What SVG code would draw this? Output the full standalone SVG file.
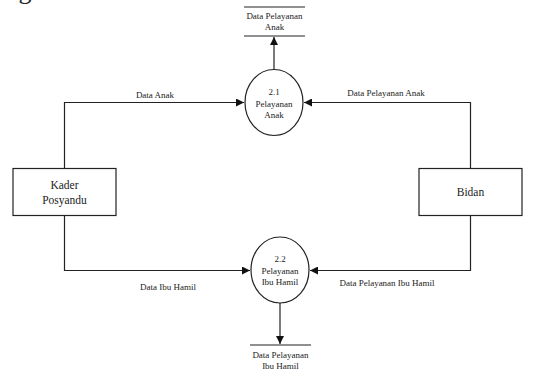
<svg xmlns="http://www.w3.org/2000/svg" width="555" height="370" viewBox="0 0 555 370">
<defs>
<style>
text{font-family:"Times New Roman","Liberation Serif",Tinos,serif;fill:#222;text-anchor:middle}
.lbl{font-size:9px}
.ent{font-size:11.5px}
.sh{fill:#fff;stroke:#222;stroke-width:1.2}
.ln{fill:none;stroke:#222;stroke-width:1.2}
.c{fill:none;stroke:#222;stroke-width:1.2}
</style>
<marker id="ah" viewBox="0 0 10 10" refX="10" refY="5" markerWidth="8" markerHeight="8" markerUnits="userSpaceOnUse" orient="auto">
<path d="M0,0 L10,5 L0,10 z" fill="#111"/>
</marker>
</defs>
<rect width="555" height="370" fill="#fff"/>
<text x="25" y="-1" style="font-size:26px">g</text>

<g id="connectors">
<polyline class="c" points="64.5,168 64.5,102.5 244,102.5" marker-end="url(#ah)"/>
<polyline class="c" points="470.5,168 470.5,102.5 304,102.5" marker-end="url(#ah)"/>
<polyline class="c" points="64.5,215 64.5,270.5 250,270.5" marker-end="url(#ah)"/>
<polyline class="c" points="470.5,215 470.5,270.5 310,270.5" marker-end="url(#ah)"/>
<line class="c" x1="274" y1="69" x2="274" y2="37" marker-end="url(#ah)"/>
<line class="c" x1="280" y1="303" x2="280" y2="344" marker-end="url(#ah)"/>
<text class="lbl" x="155" y="98">Data Anak</text>
<text class="lbl" x="386" y="96">Data Pelayanan Anak</text>
<text class="lbl" x="168" y="290">Data Ibu Hamil</text>
<text class="lbl" x="387" y="286">Data Pelayanan Ibu Hamil</text>
</g>

<g id="store1">
<line class="ln" x1="244" y1="7" x2="305" y2="7"/>
<line class="ln" x1="244" y1="36" x2="305" y2="36"/>
<text class="lbl" x="274.5" y="19">Data Pelayanan</text>
<text class="lbl" x="274.5" y="30">Anak</text>
</g>

<g id="store2">
<line class="ln" x1="250" y1="345" x2="311" y2="345"/>
<text class="lbl" x="280.5" y="358">Data Pelayanan</text>
<text class="lbl" x="280.5" y="369">Ibu Hamil</text>
</g>

<g id="p21">
<ellipse class="sh" cx="274" cy="102.5" rx="29" ry="33"/>
<text class="lbl" x="274" y="95">2.1</text>
<text class="lbl" x="274" y="107">Pelayanan</text>
<text class="lbl" x="274" y="118">Anak</text>
</g>

<g id="p22">
<ellipse class="sh" cx="280" cy="270" rx="29" ry="33"/>
<text class="lbl" x="280" y="262">2.2</text>
<text class="lbl" x="280" y="274">Pelayanan</text>
<text class="lbl" x="280" y="285">Ibu Hamil</text>
</g>

<g id="kader">
<rect class="sh" x="13" y="168.5" width="103" height="47"/>
<text class="ent" x="64.5" y="189">Kader</text>
<text class="ent" x="64.5" y="204">Posyandu</text>
</g>

<g id="bidan">
<rect class="sh" x="419" y="168.5" width="103" height="47"/>
<text class="ent" x="470.5" y="196">Bidan</text>
</g>
</svg>
